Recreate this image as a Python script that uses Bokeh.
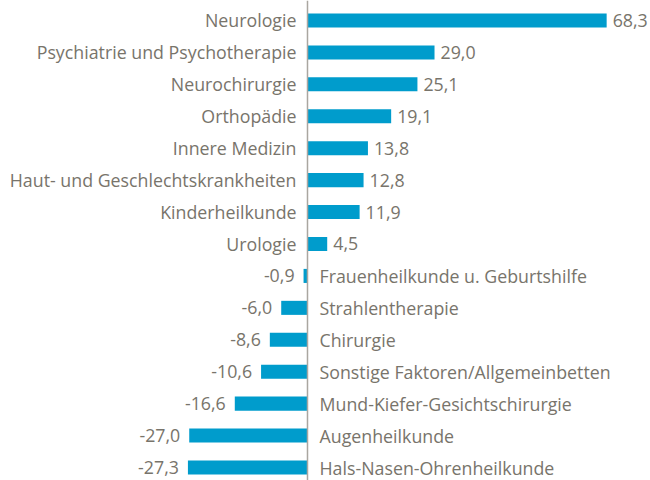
from bokeh.plotting import figure
from bokeh.models import ColumnDataSource, Range1d, Span
from bokeh.core.properties import value
from bokeh.embed import file_html
from bokeh.resources import INLINE

categories = ["Neurologie", "Psychiatrie und Psychotherapie", "Neurochirurgie", "Orthopädie",
              "Innere Medizin", "Haut- und Geschlechtskrankheiten", "Kinderheilkunde", "Urologie",
              "Frauenheilkunde u. Geburtshilfe", "Strahlentherapie", "Chirurgie",
              "Sonstige Faktoren/Allgemeinbetten", "Mund-Kiefer-Gesichtschirurgie",
              "Augenheilkunde", "Hals-Nasen-Ohrenheilkunde"]
values = [68.3, 29.0, 25.1, 19.1, 13.8, 12.8, 11.9, 4.5, -0.9, -6.0, -8.6, -10.6, -16.6, -27.0, -27.3]

BAR = "#009ccc"
TXT = "#78746b"
FONT = "Open Sans"

ypos = [-i for i in range(len(categories))]
labels = [f"{v:.1f}".replace(".", ",") for v in values]

pos = {k: [] for k in ["y", "v", "cat", "lab"]}
neg = {k: [] for k in ["y", "v", "cat", "lab"]}
for y, v, c, l in zip(ypos, values, categories, labels):
    d = pos if v >= 0 else neg
    d["y"].append(y); d["v"].append(v); d["cat"].append(c); d["lab"].append(l)
src_pos = ColumnDataSource(pos)
src_neg = ColumnDataSource(neg)

p = figure(width=650, height=480, output_backend="svg", toolbar_location=None,
           x_range=Range1d(-70.09, 78.31), y_range=Range1d(-14.407, 0.626),
           min_border=0, min_border_left=0, min_border_right=0, min_border_top=0, min_border_bottom=0)
p.axis.visible = False
p.grid.visible = False
p.outline_line_color = None

for src in (src_pos, src_neg):
    p.hbar(y="y", right="v", left=0, height=0.44, source=src, color=BAR, line_color=None)

p.add_layout(Span(location=0, dimension="height", line_color="#aaa6a0", line_width=1.5))

common = dict(text_color=TXT, text_font=value(FONT), text_font_size="17.8px", text_baseline="middle")
# positive: category left of axis, value right of bar
p.text(x=0, y="y", text="cat", source=src_pos, text_align="right", x_offset=-11, **common)
p.text(x="v", y="y", text="lab", source=src_pos, text_align="left", x_offset=6, **common)
# negative: category right of axis, value left of bar
p.text(x=0, y="y", text="cat", source=src_neg, text_align="left", x_offset=12, **common)
p.text(x="v", y="y", text="lab", source=src_neg, text_align="right", x_offset=-9, **common)

open("out.html", "w").write(file_html(p, INLINE))
